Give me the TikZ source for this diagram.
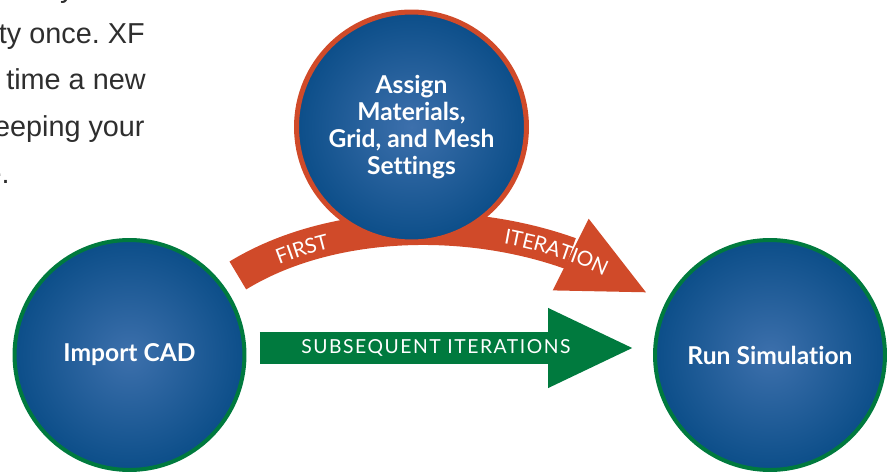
\documentclass[tikz,border=0pt]{standalone}
\usepackage{fontspec}
\setmainfont{Liberation Sans}
\newfontfamily\circfont[Ligatures=NoCommon]{Lato}
\newfontfamily\arrowfont[LetterSpace=8]{Lato}
\usepackage{tikz}
\usetikzlibrary{positioning}
\usetikzlibrary{arrows.meta,bending}
\usetikzlibrary{decorations.text}

\definecolor{stepblue}{HTML}{0C4E89}
\definecolor{stepglow}{HTML}{3D70AC}
\definecolor{firstred}{HTML}{D04A29}
\definecolor{nextgreen}{HTML}{007A3E}
\definecolor{bodygray}{HTML}{2E2E2E}

\begin{document}
\frenchspacing
\begin{tikzpicture}[x=0.02cm, y=-0.02cm]
        \tikzstyle{stage}=[circle, inner color=stepglow, outer color=stepblue,
            minimum size=4.6cm, inner sep=0pt, line width=0.08cm, text=white,
            align=center, font=\circfont\bfseries\fontsize{14}{15.3}\selectfont]
        \tikzstyle{bodytxt}=[anchor=base east, inner sep=0pt, text=bodygray,
            font=\fontsize{16.4}{19}\selectfont]
        \tikzstyle{bigarrow}=[line width=0.65cm,
            -{Triangle[length=1.74cm,width=1.46cm]}]
        \useasboundingbox (0,0) rectangle (894,473);

        % cut-off paragraph on the left
        \node[bodytxt] (line0) at (75,-2) {y};
        \node[bodytxt] (line1) at (145,43.3) {ty once. XF};
        \node[bodytxt] (line2) at (146,90) {time a new};
        \node[bodytxt] (line3) at (145,137) {eeping your};
        \node[bodytxt] (line4) at (10,184) {e.};

        \node[stage, draw=nextgreen] (import) at (129.5,355) {Import CAD};
        \node[stage, draw=nextgreen] (run) at (770,355) {Run Simulation};

        % first pass goes over the top
        \draw[bigarrow, firstred, shorten <=0.35cm, shorten >=0.39cm]
            (import.37) .. controls (367.5,196.2) and (564.4,222) .. (run.155);
        \path[decorate, decoration={text along path,
            text={|\color{white}\arrowfont\fontsize{11.8}{13}\selectfont|FIRST},
            text align={left indent=1.2cm}, raise=-0.15cm}]
            (import.37) .. controls (367.5,196.2) and (564.4,222) .. (run.155);
        \path[decorate, decoration={text along path,
            text={|\color{white}\arrowfont\fontsize{11.8}{13}\selectfont|ITERATION},
            text align={left indent=5.85cm}, raise=-0.15cm}]
            (import.37) .. controls (367.5,196.2) and (564.4,222) .. (run.155);

        \node[stage, draw=firstred, line width=0.1cm] (assign) at (411.5,127)
            {Assign\\Materials,\\Grid, and Mesh\\Settings};

        \draw[bigarrow, nextgreen, shorten <=0.27cm, shorten >=0.36cm]
            ([yshift=0.14cm]import.east) -- ([yshift=0.14cm]run.west)
            node[pos=0.466, text=white,
                font=\arrowfont\fontsize{11}{13}\selectfont] {SUBSEQUENT ITERATIONS};
\end{tikzpicture}
\end{document}
